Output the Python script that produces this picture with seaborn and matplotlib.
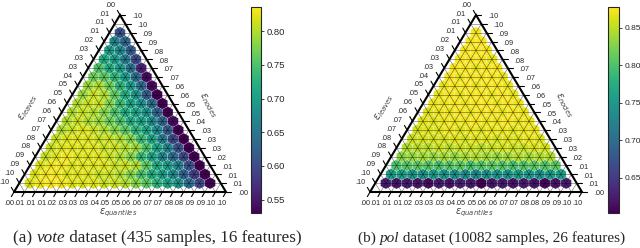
import numpy as np
import matplotlib
matplotlib.use("Agg")
import matplotlib.pyplot as plt
from matplotlib.collections import PolyCollection
import seaborn as sns

sns.set_style("white")
plt.rcParams['font.family'] = ['Liberation Sans', 'DejaVu Sans']

SCALE = 20

# heatmap values, one list per row of the ternary grid (bottom row first),
# left to right, interior points only
vote_rows = [
    [0.82, 0.83, 0.836, 0.83, 0.82, 0.82, 0.82, 0.81, 0.81, 0.80, 0.78, 0.76, 0.73, 0.71, 0.69, 0.64, 0.60, 0.532],
    [0.82, 0.83, 0.83, 0.82, 0.82, 0.82, 0.81, 0.81, 0.80, 0.78, 0.75, 0.72, 0.70, 0.68, 0.63, 0.59, 0.53],
    [0.82, 0.83, 0.83, 0.82, 0.82, 0.82, 0.82, 0.81, 0.81, 0.80, 0.76, 0.72, 0.70, 0.67, 0.61, 0.53],
    [0.81, 0.82, 0.83, 0.82, 0.82, 0.82, 0.81, 0.80, 0.78, 0.74, 0.71, 0.67, 0.64, 0.60, 0.53],
    [0.81, 0.82, 0.82, 0.82, 0.82, 0.81, 0.81, 0.80, 0.79, 0.75, 0.71, 0.67, 0.61, 0.53],
    [0.81, 0.82, 0.82, 0.82, 0.81, 0.81, 0.80, 0.78, 0.74, 0.71, 0.66, 0.60, 0.53],
    [0.80, 0.81, 0.82, 0.81, 0.80, 0.78, 0.76, 0.73, 0.71, 0.68, 0.62, 0.53],
    [0.80, 0.81, 0.80, 0.79, 0.77, 0.75, 0.72, 0.71, 0.68, 0.63, 0.54],
    [0.80, 0.81, 0.80, 0.78, 0.75, 0.72, 0.71, 0.69, 0.63, 0.53],
    [0.80, 0.81, 0.81, 0.78, 0.74, 0.71, 0.69, 0.64, 0.53],
    [0.79, 0.81, 0.80, 0.76, 0.72, 0.69, 0.62, 0.53],
    [0.79, 0.80, 0.77, 0.73, 0.70, 0.64, 0.54],
    [0.77, 0.76, 0.73, 0.70, 0.64, 0.54],
    [0.75, 0.72, 0.70, 0.65, 0.56],
    [0.72, 0.70, 0.66, 0.60],
    [0.70, 0.68, 0.62],
    [0.67, 0.63],
    [0.61],
]

pol_rows = [
    [0.625, 0.62, 0.625, 0.62, 0.612, 0.625, 0.62, 0.63, 0.625, 0.603, 0.62, 0.625, 0.62, 0.625, 0.62, 0.608, 0.62, 0.625],
    [0.755, 0.76, 0.75, 0.745, 0.755, 0.75, 0.745, 0.74, 0.735, 0.745, 0.75, 0.745, 0.755, 0.75, 0.745, 0.755, 0.76],
    [0.80, 0.805, 0.81, 0.805, 0.80, 0.805, 0.81, 0.80, 0.805, 0.81, 0.805, 0.80, 0.805, 0.81, 0.805, 0.81],
    [0.83, 0.835, 0.84, 0.835, 0.84, 0.835, 0.84, 0.845, 0.84, 0.835, 0.84, 0.845, 0.84, 0.845, 0.845],
    [0.845, 0.85, 0.85, 0.855, 0.85, 0.855, 0.855, 0.85, 0.855, 0.86, 0.855, 0.855, 0.86, 0.86],
    [0.855, 0.86, 0.86, 0.86, 0.865, 0.86, 0.865, 0.865, 0.86, 0.865, 0.865, 0.87, 0.865],
    [0.86, 0.865, 0.865, 0.87, 0.865, 0.87, 0.865, 0.87, 0.87, 0.865, 0.87, 0.87],
    [0.865, 0.865, 0.87, 0.87, 0.87, 0.875, 0.87, 0.87, 0.875, 0.87, 0.87],
    [0.865, 0.87, 0.87, 0.875, 0.87, 0.875, 0.875, 0.87, 0.875, 0.87],
    [0.87, 0.87, 0.875, 0.87, 0.875, 0.875, 0.87, 0.875, 0.87],
    [0.87, 0.875, 0.87, 0.875, 0.875, 0.87, 0.875, 0.87],
    [0.87, 0.875, 0.875, 0.87, 0.875, 0.875, 0.87],
    [0.875, 0.87, 0.875, 0.875, 0.875, 0.87],
    [0.875, 0.875, 0.87, 0.875, 0.875],
    [0.875, 0.875, 0.875, 0.87],
    [0.875, 0.878, 0.875],
    [0.875, 0.878],
    [0.875],
]

eps_labels = [".00", ".01", ".01", ".01", ".02", ".03", ".03", ".03", ".04", ".05", ".05",
              ".06", ".06", ".07", ".07", ".08", ".08", ".09", ".09", ".10", ".10"]

vote_cbar_ticks = [0.55, 0.60, 0.65, 0.70, 0.75, 0.80]
pol_cbar_ticks = [0.65, 0.70, 0.75, 0.80, 0.85]

cmap = sns.color_palette("viridis", as_cmap=True)

# hexagon corners = centroids of the six small triangles round a grid point
HEX = [(0.5, 1/3), (0, 2/3), (-0.5, 1/3), (-0.5, -1/3), (0, -2/3), (0.5, -1/3)]


def ternary_panel(ax, cax, rows, cticks, cb_fontsize):
    polys, vals = [], []
    for j, row in enumerate(rows, start=1):
        for i, v in enumerate(row, start=1):
            x = i + j / 2
            polys.append([(x + dx, j + dy) for dx, dy in HEX])
            vals.append(v)
    pc = PolyCollection(polys, array=np.array(vals), cmap=cmap,
                        edgecolors=(1, 1, 1, 0.35), linewidths=0.4)
    pc.set_clim(min(vals), max(vals))
    ax.add_collection(pc)

    # triangular grid
    for n in range(1, SCALE):
        ax.plot([n / 2, SCALE - n / 2], [n, n], color='k', lw=0.45, alpha=0.55)
        ax.plot([n, n + (SCALE - n) / 2], [0, SCALE - n], color='k', lw=0.45, alpha=0.55)
        ax.plot([n, n / 2], [0, n], color='k', lw=0.45, alpha=0.55)

    # boundary
    ax.plot([0, SCALE, SCALE / 2, 0], [0, 0, SCALE, 0], color='k', lw=1.5,
            clip_on=False, solid_joinstyle='miter')

    # ticks + labels
    for n in range(SCALE + 1):
        # left axis
        ax.plot([n / 2, n / 2 - 0.25], [n, n + 0.52], color='k', lw=0.8, clip_on=False)
        ax.text(n / 2 - 0.95, n + 1.1, eps_labels[SCALE - n], fontsize=5.2,
                ha='center', va='center', clip_on=False)
        # right axis
        ax.plot([SCALE - n / 2, SCALE - n / 2 + 0.5], [n, n], color='k', lw=0.8, clip_on=False)
        ax.text(SCALE - n / 2 + 1.6, n - 0.2, eps_labels[n], fontsize=5.2,
                ha='center', va='center', clip_on=False)
        # bottom axis
        ax.plot([n, n - 0.25], [0, -0.52], color='k', lw=0.8, clip_on=False)
        ax.text(n - 0.45, -1.25, eps_labels[n], fontsize=5.2,
                ha='center', va='center', clip_on=False)

    lab = dict(fontsize=7, color='#444444', ha='center', va='center', clip_on=False)
    ax.text(1.3, 9.6, r'$\varepsilon_{leaves}$', rotation=60, **lab)
    ax.text(18.3, 9.8, r'$\varepsilon_{nodes}$', rotation=-60, **lab)
    ax.text(SCALE / 2 - 0.2, -2.4, r'$\varepsilon_{quantiles}$', **lab)

    ax.set_xlim(0, SCALE)
    ax.set_ylim(0, SCALE)
    ax.set_axis_off()

    cb = plt.colorbar(pc, cax=cax)
    cb.set_ticks(cticks)
    cb.set_ticklabels([f"{t:.2f}" for t in cticks])
    cb.ax.tick_params(labelsize=cb_fontsize, length=2.5, width=0.6, pad=1.5,
                      direction='out', right=True)
    cb.outline.set_linewidth(0.8)
    return cb


W, H = 640, 248
fig = plt.figure(figsize=(6.4, 2.48), dpi=100)
ax1 = fig.add_axes([14 / W, 56 / H, 212 / W, 177 / H])
cax1 = fig.add_axes([251 / W, 35 / H, 10 / W, 206 / H])
ax2 = fig.add_axes([370 / W, 56 / H, 212 / W, 177 / H])
cax2 = fig.add_axes([608 / W, 35 / H, 11 / W, 206 / H])

ternary_panel(ax1, cax1, vote_rows, vote_cbar_ticks, 6.8)
ternary_panel(ax2, cax2, pol_rows, pol_cbar_ticks, 6.0)

# captions with italic dataset names
for ax, x0, fs, tag, name, rest in [
        (ax1, 13, 12.3, "(a) ", "vote", " dataset (435 samples, 16 features)"),
        (ax2, 358, 11.0, "(b) ", "pol", " dataset (10082 samples, 26 features)")]:
    serif = dict(fontfamily='Liberation Serif', fontsize=fs)
    t = fig.text(x0 / W, 10 / H, tag, va='center', **serif)
    t2 = ax.annotate(name, xy=(1, 0), xycoords=t, ha='left', va='bottom', fontstyle='italic',
                     annotation_clip=False, **serif)
    ax.annotate(rest, xy=(1, 0), xycoords=t2, ha='left', va='bottom',
                annotation_clip=False, **serif)

fig.savefig("out.png", dpi=100)
